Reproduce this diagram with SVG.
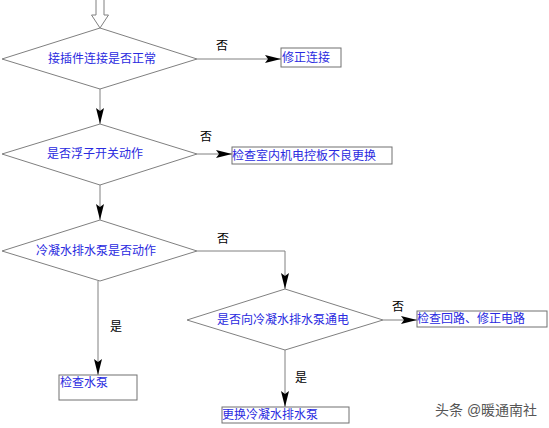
<svg xmlns="http://www.w3.org/2000/svg" width="549" height="428" viewBox="0 0 549 428">
<defs>
<marker id="ah" viewBox="0 0 16 8" refX="16" refY="4" markerWidth="16" markerHeight="8" markerUnits="userSpaceOnUse" orient="auto">
<path d="M0,0 L16,4 L0,8 L3,4 Z" fill="#000"/>
</marker>
<style>
.d{fill:#fff;stroke:#808080;stroke-width:1}
.b{fill:#fff;stroke:#707070;stroke-width:1}
.c{fill:none;stroke:#808080;stroke-width:1}
.t{font-family:"Liberation Sans","Noto Sans CJK SC",sans-serif;font-size:12px;fill:#2a2ae0}
.l{font-family:"Liberation Sans","Noto Sans CJK SC",sans-serif;font-size:12px;fill:#000}
.w{font-family:"Liberation Sans","Noto Sans CJK SC",sans-serif;font-size:14px;fill:#555}
</style>
</defs>
<rect width="549" height="428" fill="#fff"/>
<g id="start">
<path d="M96,0 V15 H91.5 L100,28 L108.5,15 H104 V0" fill="#fff" stroke="#808080"/>
</g>
<g id="connectors">
<path class="c" d="M197,59 H281" marker-end="url(#ah)"/>
<path class="c" d="M100,89 V124" marker-end="url(#ah)"/>
<path class="c" d="M197,154 H232" marker-end="url(#ah)"/>
<path class="c" d="M100,185 V220" marker-end="url(#ah)"/>
<path class="c" d="M197,251 H285 V289" marker-end="url(#ah)"/>
<path class="c" d="M383,320 H417" marker-end="url(#ah)"/>
<path class="c" d="M285,350 V407" marker-end="url(#ah)"/>
<path class="c" d="M98,281 V375" marker-end="url(#ah)"/>
<text class="l" x="222" y="50" text-anchor="middle">否</text>
<text class="l" x="102" y="76" text-anchor="middle">是</text>
<text class="l" x="206" y="141" text-anchor="middle">否</text>
<text class="l" x="100" y="174" text-anchor="middle">是</text>
<text class="l" x="223" y="243" text-anchor="middle">否</text>
<text class="l" x="398" y="311" text-anchor="middle">否</text>
<text class="l" x="116" y="331" text-anchor="middle">是</text>
<text class="l" x="301" y="382" text-anchor="middle">是</text>
</g>
<g id="d1">
<polygon class="d" points="100,28 197,59 100,89 2,59"/>
<text class="t" x="102" y="63" text-anchor="middle">接插件连接是否正常</text>
</g>
<g id="b1">
<rect class="b" x="281" y="48" width="60" height="19"/>
<text class="t" x="282" y="62">修正连接</text>
</g>
<g id="d2">
<polygon class="d" points="100,124 197,154 100,185 2,154"/>
<text class="t" x="95" y="158" text-anchor="middle">是否浮子开关动作</text>
</g>
<g id="b2">
<rect class="b" x="232" y="147" width="160" height="17"/>
<text class="t" x="232" y="160">检查室内机电控板不良更换</text>
</g>
<g id="d3">
<polygon class="d" points="100,220 197,251 100,281 2,251"/>
<text class="t" x="96" y="255" text-anchor="middle">冷凝水排水泵是否动作</text>
</g>
<g id="d4">
<polygon class="d" points="285,289 383,320 285,350 187,320"/>
<text class="t" x="283" y="324" text-anchor="middle">是否向冷凝水排水泵通电</text>
</g>
<g id="b3">
<rect class="b" x="417" y="311" width="130" height="16"/>
<text class="t" x="417" y="323">检查回路、修正电路</text>
</g>
<g id="b4">
<rect class="b" x="59" y="375" width="78" height="25"/>
<text class="t" x="60" y="387">检查水泵</text>
</g>
<g id="b5">
<rect class="b" x="222" y="407" width="127" height="16"/>
<text class="t" x="222" y="419">更换冷凝水排水泵</text>
</g>
<text class="w" x="435" y="415">头条 @暖通南社</text>
</svg>
